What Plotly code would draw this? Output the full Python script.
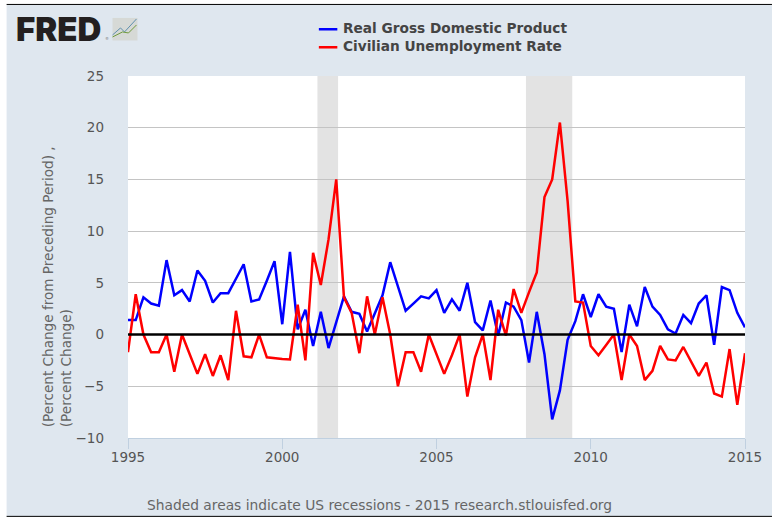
import plotly.graph_objects as go

W, H = 772, 517
L, R, T, B = 127.5, 27, 76, 79.3

quarters = [1995 + i * 0.25 for i in range(81)]
gdp = [1.4, 1.4, 3.6, 3.0, 2.8, 7.2, 3.8, 4.3, 3.2, 6.2, 5.2, 3.1, 4.0, 4.0, 5.4, 6.8,
       3.2, 3.4, 5.2, 7.1, 1.0, 8.0, 0.5, 2.4, -1.1, 2.2, -1.3, 1.1, 3.7, 2.2, 2.0, 0.3,
       2.0, 3.8, 7.0, 4.7, 2.3, 3.0, 3.7, 3.5, 4.3, 2.1, 3.4, 2.3, 5.0, 1.2, 0.4, 3.3,
       -0.1, 3.1, 2.7, 1.4, -2.7, 2.2, -1.9, -8.2, -5.4, -0.5, 1.3, 3.9, 1.7, 3.9, 2.7, 2.5,
       -1.7, 2.9, 0.8, 4.6, 2.7, 1.9, 0.5, 0.1, 1.9, 1.1, 3.0, 3.8, -1.0, 4.6, 4.3, 2.1, 0.7]
unemp = [-1.7, 3.9, 0.0, -1.7, -1.7, 0.0, -3.6, 0.0, -1.9, -3.8, -1.9, -4.0, -2.0, -4.4, 2.3, -2.1,
         -2.2, 0.0, -2.2, -2.3, -2.35, -2.4, 2.9, -2.5, 7.9, 4.8, 9.2, 15.0, 3.6, 2.1, -1.8, 3.7,
         0.0, 3.6, 0.0, -5.0, -1.7, -1.7, -3.6, 0.0, -1.9, -3.8, -2.0, 0.0, -6.0, -2.2, 0.0, -4.4,
         2.4, -0.1, 4.4, 2.1, 4.1, 6.0, 13.3, 15.0, 20.5, 12.9, 3.2, 3.1, -1.1, -2.0, -1.0, 0.0,
         -4.4, 0.0, -1.1, -4.4, -3.5, -1.1, -2.4, -2.5, -1.2, -2.6, -4.0, -2.7, -5.7, -6.0, -1.4, -6.8, -1.8]
recessions = [(2001.14, 2001.81), (2007.9, 2009.4)]
x_ticks = [1995, 2000, 2005, 2010, 2015]
y_ticks = [-10, -5, 0, 5, 10, 15, 20, 25]
series_names = ["Real Gross Domestic Product", "Civilian Unemployment Rate"]
series_colors = ["#0000ff", "#ff0000"]


def px(x):
    return (x - L) / (W - L - R)


def py(y):
    return 1 - (y - T) / (H - T - B)


PANEL = "#dfe7ef"
FONT = "DejaVu Sans"

fig = go.Figure()
for name, color, vals in zip(series_names, series_colors, (gdp, unemp)):
    fig.add_trace(go.Scatter(x=quarters, y=vals, mode="lines", name=name,
                             line=dict(color=color, width=2.5), hoverinfo="x+y"))

shapes = [
    dict(type="rect", xref="paper", yref="paper", x0=px(6), x1=px(772), y0=py(516), y1=py(5),
         fillcolor=PANEL, line_width=0, layer="below"),
    dict(type="rect", xref="paper", yref="paper", x0=0, x1=1, y0=0, y1=1,
         fillcolor="#ffffff", line_width=0, layer="below"),
    dict(type="line", xref="paper", yref="paper", x0=px(6), x1=px(772), y0=py(4.5), y1=py(4.5),
         line=dict(color="#000000", width=1)),
    dict(type="line", xref="paper", yref="paper", x0=px(6), x1=px(772), y0=py(516), y1=py(516),
         line=dict(color="#000000", width=1)),
]
for start, end in recessions:
    shapes.append(dict(type="rect", xref="x", yref="paper", x0=start, x1=end, y0=0, y1=1,
                       fillcolor="#e3e3e3", line_width=0, layer="below"))
shapes.append(dict(type="line", xref="paper", yref="y", x0=0, x1=1, y0=0, y1=0,
                   line=dict(color="#000000", width=2.5), layer="above"))

# FRED logo tile
shapes.append(dict(type="rect", xref="paper", yref="paper", x0=px(112), x1=px(137), y0=py(40.5), y1=py(18),
                   fillcolor="#d6d9d6", line_width=0))
logo_blue = [(112, 35), (120, 28), (124, 32), (136, 19)]
logo_green = [(112, 37), (122, 32), (128, 33), (136, 25)]
for pts, col in ((logo_blue, "#5f8fae"), (logo_green, "#6f9a3c")):
    path = "M " + " L ".join(f"{px(a):.5f},{py(b):.5f}" for a, b in pts)
    shapes.append(dict(type="path", xref="paper", yref="paper", path=path,
                       line=dict(color=col, width=1)))

annotations = [
    dict(text="FRED", x=px(13), y=py(29.5), xref="paper", yref="paper", xanchor="left", yanchor="middle",
         showarrow=False, font=dict(family="Inter", size=33, color="#231f20", weight=900)),
    dict(text="®", x=px(106.5), y=py(39), xref="paper", yref="paper", xanchor="center", yanchor="middle",
         showarrow=False, font=dict(family=FONT, size=4, color="#777777")),
    dict(text="Shaded areas indicate US recessions - 2015 research.stlouisfed.org",
         x=px(379), y=py(505), xref="paper", yref="paper", xanchor="center", yanchor="middle",
         showarrow=False, font=dict(family=FONT, size=13.8, color="#666666")),
    dict(text="(Percent Change from Preceding Period) ,<br>(Percent Change)",
         x=px(56), y=py(286.5), xref="paper", yref="paper", xanchor="center", yanchor="middle", align="left",
         showarrow=False, textangle=-90, font=dict(family=FONT, size=13.6, color="#666666")),
]

# legend rows
for name, color, row_y in zip(series_names, series_colors, (28.5, 46.5)):
    annotations.append(dict(text=name, x=px(341), y=py(row_y), xref="paper", yref="paper",
                            xanchor="left", yanchor="middle", showarrow=False,
                            font=dict(family=FONT, size=13.7, color="#444444", weight="bold")))
    shapes.append(dict(type="line", xref="paper", yref="paper", x0=px(318.5), x1=px(337),
                       y0=py(row_y + 0.8), y1=py(row_y + 0.8), line=dict(color=color, width=2.5)))

fig.update_layout(
    width=W, height=H, autosize=False,
    margin=dict(l=L, r=R, t=T, b=B, pad=0, autoexpand=False),
    paper_bgcolor="#ffffff", plot_bgcolor="rgba(0,0,0,0)",
    shapes=shapes, annotations=annotations, showlegend=False,
    xaxis=dict(range=[1995, 2015], tickvals=x_ticks, ticks="outside", ticklen=10, tickcolor="#c0d0e0",
               tickwidth=1, showgrid=False, zeroline=False, showline=True, linecolor="#c0d0e0", linewidth=1,
               ticklabelstandoff=-3,
               tickfont=dict(family=FONT, size=13.5, color="#555555")),
    yaxis=dict(range=[-10, 25], tickvals=y_ticks, ticks="", showgrid=True, gridcolor="#c4c4c4", gridwidth=1,
               zeroline=False, showline=False, ticklabelstandoff=23,
               tickfont=dict(family=FONT, size=13.5, color="#555555")),
)
fig.write_html("out.html", config={"displayModeBar": False},
               post_script="document.body.style.margin='0';document.documentElement.style.overflow='hidden';")
